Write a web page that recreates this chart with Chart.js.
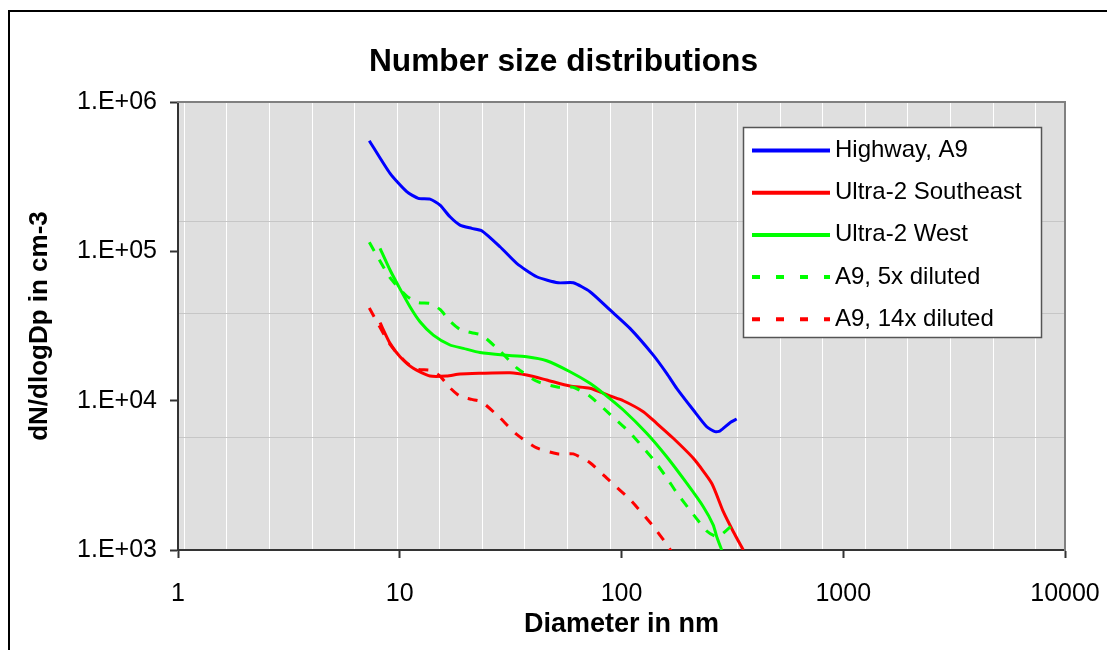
<!DOCTYPE html>
<html><head><meta charset="utf-8">
<script src="https://cdn.jsdelivr.net/npm/chart.js@4.4.0/dist/chart.umd.min.js"></script>
<style>html,body{margin:0;padding:0;background:#fff;}#wrap{width:1107px;height:650px;position:relative;}</style>
</head><body><div id="wrap"><canvas id="c" width="1107" height="650"></canvas></div>
<script>
// ---------- data ----------
const chartTitle = 'Number size distributions';
const xAxisTitle = 'Diameter in nm';
const yAxisTitle = 'dN/dlogDp in cm-3';
const seriesNames = ['Highway, A9', 'Ultra-2 Southeast', 'Ultra-2 West', 'A9, 5x diluted', 'A9, 14x diluted'];

const xTickValues = [1, 10, 100, 1000, 10000];
const xTickLabels = ['1', '10', '100', '1000', '10000'];
const yTickValues = [1e3, 1e4, 1e5, 1e6];
const yTickLabels = ['1.E+03', '1.E+04', '1.E+05', '1.E+06'];

const highwayD = [7.29, 9.04, 10.75, 12.13, 13.69, 15.19, 16.85, 18.69, 21.11, 23.42, 28.32, 33.69, 41.47, 51.88, 60.63, 72.1, 88.76, 109.2, 139.1, 159.9, 177.4, 210.8, 242.3, 264.0, 278.1, 308.6, 330.7];
const highwayN = [5.51e5, 3.33e5, 2.51e5, 2.265e5, 2.24e5, 2.04e5, 1.705e5, 1.50e5, 1.426e5, 1.375e5, 1.074e5, 8.31e4, 6.76e4, 6.16e4, 6.16e4, 5.37e4, 4.05e4, 3.05e4, 2.02e4, 1.525e4, 1.21e4, 8.66e3, 6.69e3, 6.20e3, 6.27e3, 7.12e3, 7.54e3];

const southeastD = [8.15, 9.04, 10.03, 11.51, 13.69, 16.28, 18.69, 23.0, 31.42, 37.37, 45.99, 58.6, 72.1, 88.76, 101.9, 125.4, 144.1, 171.2, 210.8, 255.1, 287.8, 319.4, 354.2];
const southeastN = [3.33e4, 2.42e4, 1.97e4, 1.647e4, 1.463e4, 1.463e4, 1.508e4, 1.525e4, 1.539e4, 1.486e4, 1.376e4, 1.253e4, 1.21e4, 1.075e4, 9.99e3, 8.44e3, 7.05e3, 5.60e3, 4.11e3, 2.80e3, 1.805e3, 1.326e3, 1.0e3];

const westD = [8.15, 9.04, 10.0, 11.12, 12.34, 14.17, 16.85, 19.35, 23.0, 29.31, 37.37, 45.99, 58.6, 72.1, 82.79, 101.9, 129.9, 159.9, 196.8, 233.8, 259.4, 268.8, 283.1];
const westN = [1.048e5, 7.5e4, 5.65e4, 4.26e4, 3.38e4, 2.75e4, 2.36e4, 2.24e4, 2.1e4, 2.02e4, 1.97e4, 1.852e4, 1.563e4, 1.307e4, 1.12e4, 8.66e3, 6.05e3, 4.21e3, 2.8e3, 1.95e3, 1.47e3, 1.227e3, 1.0e3];

const dil5D = [7.29, 9.04, 10.75, 12.13, 13.69, 15.19, 16.85, 18.69, 21.11, 23.42, 28.32, 33.69, 41.47, 51.88, 60.63, 72.1, 88.76, 109.2, 139.1, 159.9, 177.4, 210.8, 242.3, 264.0, 278.1, 308.6, 330.7];
const dil5N = [1.15e5, 6.66e4, 5.02e4, 4.53e4, 4.48e4, 4.08e4, 3.41e4, 3.00e4, 2.85e4, 2.75e4, 2.15e4, 1.66e4, 1.35e4, 1.23e4, 1.23e4, 1.07e4, 8.1e3, 6.1e3, 4.04e3, 3.05e3, 2.42e3, 1.73e3, 1.34e3, 1.24e3, 1.25e3, 1.42e3, 1.51e3];

const dil14D = [7.29, 9.04, 10.75, 12.13, 13.69, 15.19, 16.85, 18.69, 21.11, 23.42, 28.32, 33.69, 41.47, 51.88, 60.63, 72.1, 88.76, 109.2, 139.1, 159.9, 177.4];
const dil14N = [4.17e4, 2.38e4, 1.79e4, 1.62e4, 1.60e4, 1.46e4, 1.22e4, 1.07e4, 1.02e4, 9.82e3, 7.67e3, 5.94e3, 4.83e3, 4.40e3, 4.40e3, 3.84e3, 2.89e3, 2.18e3, 1.44e3, 1.09e3, 8.64e2];

// background grid helpers (decoration of the plot area)
const hGridValues = [1.58e5, 3.85e4, 5.7e3];
const vGridSteps = [0, 1, 2, 3, 4, 5, 6, 7, 8, 9, 10, 11, 12, 13, 14, 15, 16, 17, 18, 19, 20];

// ---------- helpers ----------
const pts = (xs, ys) => xs.map((x, i) => ({ x: x, y: ys[i] }));
const FONT = '"Liberation Sans", Arial, sans-serif';

const framePlugin = {
  id: 'frame',
  beforeDraw(chart) {
    const ctx = chart.ctx, a = chart.chartArea;
    ctx.save();
    ctx.fillStyle = '#ffffff';
    ctx.fillRect(0, 0, chart.width, chart.height);
    ctx.strokeStyle = '#000000';
    ctx.lineWidth = 2;
    ctx.beginPath();
    ctx.moveTo(9, chart.height);
    ctx.lineTo(9, 11);
    ctx.lineTo(chart.width, 11);
    ctx.stroke();
    ctx.fillStyle = '#dfdfdf';
    ctx.fillRect(a.left, a.top, a.right - a.left, a.bottom - a.top);
    ctx.restore();
  }
};

const legendPlugin = {
  id: 'boxLegend',
  afterDraw(chart) {
    const ctx = chart.ctx;
    ctx.save();
    ctx.fillStyle = '#ffffff';
    ctx.fillRect(743.5, 127.5, 298, 210);
    ctx.strokeStyle = '#555555';
    ctx.lineWidth = 1.5;
    ctx.strokeRect(743.5, 127.5, 298, 210);
    chart.data.datasets.forEach((ds, i) => {
      const y = 150.5 + i * 42.2;
      ctx.strokeStyle = ds.borderColor;
      ctx.lineWidth = 4;
      ctx.setLineDash(ds.borderDash ? [8, 16] : []);
      ctx.beginPath();
      ctx.moveTo(752, y);
      ctx.lineTo(830, y);
      ctx.stroke();
      ctx.setLineDash([]);
      ctx.fillStyle = '#000000';
      ctx.font = '24px ' + FONT;
      ctx.textBaseline = 'alphabetic';
      ctx.textAlign = 'left';
      ctx.fillText(ds.label, 835, y + 6.5);
    });
    ctx.restore();
  }
};

const lineDs = (label, data, color, dashed, order) => ({
  label: label, data: data, borderColor: color, backgroundColor: color,
  borderWidth: 3, borderDash: dashed ? [10, 10] : undefined,
  pointRadius: 0, pointHoverRadius: 0, fill: false, tension: 0.2, order: order,
  xAxisID: 'x', yAxisID: 'y'
});

new Chart(document.getElementById('c'), {
  type: 'line',
  data: {
    datasets: [
      lineDs(seriesNames[0], pts(highwayD, highwayN), '#0000ff', false, 5),
      lineDs(seriesNames[1], pts(southeastD, southeastN), '#ff0000', false, 4),
      lineDs(seriesNames[2], pts(westD, westN), '#00ff00', false, 3),
      lineDs(seriesNames[3], pts(dil5D, dil5N), '#00ff00', true, 2),
      lineDs(seriesNames[4], pts(dil14D, dil14N), '#ff0000', true, 1)
    ]
  },
  options: {
    responsive: false,
    animation: false,
    devicePixelRatio: 1,
    layout: { padding: { left: 20, right: 0, top: 0, bottom: 0 } },
    plugins: {
      legend: { display: false },
      tooltip: { enabled: false },
      title: {
        display: true, text: chartTitle, color: '#000000',
        font: { family: FONT, size: 31.7, weight: 'bold' },
        padding: { top: 43, bottom: 21 }
      }
    },
    scales: {
      x: {
        type: 'logarithmic', position: 'bottom', min: 1, max: 10000,
        afterBuildTicks: s => { s.ticks = xTickValues.map(v => ({ value: v, major: true })); },
        afterFit: s => { s.height = 100; s.paddingLeft = 0; s.paddingRight = 0; },
        ticks: {
          callback: (v, i) => xTickLabels[i], autoSkip: false, maxRotation: 0,
          color: '#000000', font: { family: FONT, size: 25 }, padding: 21
        },
        grid: { drawOnChartArea: false, drawTicks: true, tickLength: 8, tickColor: '#333333', tickWidth: 2 },
        border: { display: true, color: '#333333', width: 2 },
        title: { display: true, text: xAxisTitle, color: '#000000', font: { family: FONT, size: 27, weight: 'bold' }, padding: { top: 0, bottom: 8.8 } }
      },
      y: {
        type: 'logarithmic', position: 'left', min: 1e3, max: 1e6,
        afterBuildTicks: s => { s.ticks = yTickValues.map(v => ({ value: v, major: true })); },
        afterFit: s => { s.width = 158; },
        ticks: {
          callback: (v, i) => yTickLabels[i], autoSkip: false,
          color: '#000000', font: { family: FONT, size: 25 }, padding: 13
        },
        grid: { drawOnChartArea: false, drawTicks: true, tickLength: 8, tickColor: '#333333', tickWidth: 2 },
        border: { display: true, color: '#333333', width: 2 },
        title: { display: true, text: yAxisTitle, color: '#000000', font: { family: FONT, size: 26, weight: 'bold' }, padding: { top: 4.4, bottom: 0 } }
      },
      xg: {
        type: 'linear', position: 'top', min: -0.148, max: 20.688,
        afterBuildTicks: s => { s.ticks = vGridSteps.map(v => ({ value: v })); },
        afterFit: s => { s.height = 0; },
        ticks: { display: false },
        grid: { drawOnChartArea: true, drawTicks: false, color: '#ffffff', lineWidth: 1 },
        border: { display: true, color: '#808080', width: 2 }
      },
      yg: {
        type: 'logarithmic', position: 'right', min: 1e3, max: 1e6,
        afterBuildTicks: s => { s.ticks = hGridValues.map(v => ({ value: v })); },
        afterFit: s => { s.width = 42; },
        ticks: { display: false },
        grid: { drawOnChartArea: true, drawTicks: false, color: '#c6c6c6', lineWidth: 1 },
        border: { display: true, color: '#808080', width: 2 }
      }
    }
  },
  plugins: [framePlugin, legendPlugin]
});
</script>
</body></html>
